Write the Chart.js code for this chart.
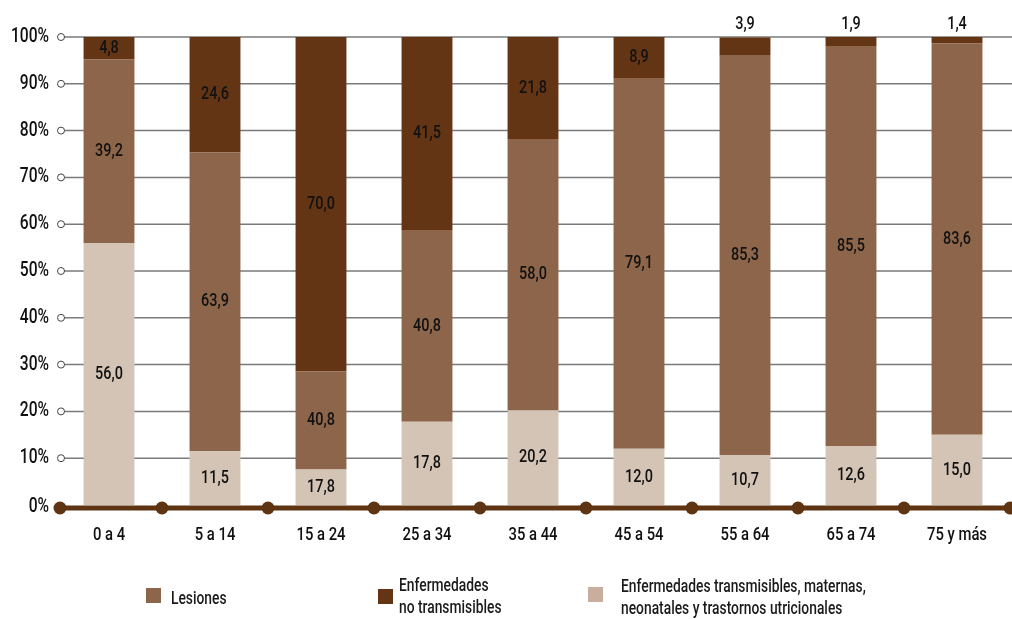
<!DOCTYPE html>
<html>
<head>
<meta charset="utf-8">
<script src="https://cdn.jsdelivr.net/npm/chart.js@4.4.1/dist/chart.umd.min.js"></script>
<style>
  body { margin: 0; background: #fff; }
  #wrap { position: relative; width: 1012px; height: 619px; }
  .legend-text {
    position: absolute;
    font-family: Roboto, "Liberation Sans", sans-serif;
    font-weight: 500;
    font-size: 17.5px;
    line-height: 22px;
    color: #1a1a1a;
    white-space: nowrap;
    transform: scaleX(0.79);
    transform-origin: left top;
  }
  .swatch { position: absolute; width: 15px; height: 15px; }
</style>
</head>
<body>
<div id="wrap">
  <canvas id="chart" width="1012" height="619"></canvas>
  <div class="swatch" style="left:146px;top:588px;background:#8d654a"></div>
  <div class="legend-text" style="left:171px;top:587px">Lesiones</div>
  <div class="swatch" style="left:378px;top:589px;background:#643514"></div>
  <div class="legend-text" style="left:399px;top:574px">Enfermedades<br>no transmisibles</div>
  <div class="swatch" style="left:588px;top:587px;background:#c8ae9c"></div>
  <div class="legend-text" style="left:621px;top:575px">Enfermedades transmisibles, maternas,<br>neonatales y trastornos utricionales</div>
</div>

<script>
// Categories (age groups)
const ageGroups = ['0 a 4', '5 a 14', '15 a 24', '25 a 34', '35 a 44', '45 a 54', '55 a 64', '65 a 74', '75 y más'];

// Bar heights (%) as drawn
const transmisibles = [56.0, 11.5, 7.6, 17.8, 20.2, 12.0, 10.7, 12.6, 15.0];
const lesiones = [39.2, 63.9, 21.0, 40.8, 58.0, 79.1, 85.3, 85.5, 83.6];
const noTransmisibles = [4.8, 24.6, 71.4, 41.5, 21.8, 8.9, 3.9, 1.9, 1.4];

// Printed labels
const transmisiblesLabels = ['56,0', '11,5', '17,8', '17,8', '20,2', '12,0', '10,7', '12,6', '15,0'];
const lesionesLabels = ['39,2', '63,9', '40,8', '40,8', '58,0', '79,1', '85,3', '85,5', '83,6'];
const noTransmisiblesLabels = ['4,8', '24,6', '70,0', '41,5', '21,8', '8,9', '3,9', '1,9', '1,4'];

// Y axis ticks
const yTicks = [0, 10, 20, 30, 40, 50, 60, 70, 80, 90, 100];

const fontFamily = 'Roboto, "Liberation Sans", sans-serif';
const axisColor = '#5e3413';
const textColor = '#111';
const squeeze = 0.78; // condensed look
const allLabels = [transmisiblesLabels, lesionesLabels, noTransmisiblesLabels];

// Draw text squeezed horizontally
function drawText(ctx, text, x, y, size, align) {
  ctx.save();
  ctx.translate(x, y);
  ctx.scale(squeeze, 1);
  ctx.font = '500 ' + size + 'px ' + fontFamily;
  ctx.fillStyle = textColor;
  ctx.textAlign = align;
  ctx.textBaseline = 'middle';
  ctx.fillText(text, 0, 0);
  ctx.restore();
}

// Grid lines, axis line with dots, tick and value labels
const decor = {
  id: 'decor',
  beforeDatasetsDraw(chart) {
    const { ctx, scales: { y } } = chart;
    ctx.save();
    yTicks.forEach(v => {
      const py = y.getPixelForValue(v);
      if (v === 0) {
        drawText(ctx, v + '%', 49, py + 2, 20, 'right');
        return;
      }
      drawText(ctx, v + '%', 49, py, 20, 'right');
      ctx.strokeStyle = '#7a7a7a';
      ctx.lineWidth = 1.5;
      ctx.beginPath();
      ctx.moveTo(64, py);
      ctx.lineTo(chart.width, py);
      ctx.stroke();
      ctx.fillStyle = '#fff';
      ctx.strokeStyle = '#444';
      ctx.lineWidth = 1;
      ctx.beginPath();
      ctx.arc(61, py, 3.5, 0, Math.PI * 2);
      ctx.fill();
      ctx.stroke();
    });
    ctx.restore();
  },
  afterDatasetsDraw(chart) {
    const { ctx, chartArea, scales: { x, y } } = chart;
    const y0 = y.getPixelForValue(0) + 3;
    ctx.save();
    ctx.strokeStyle = axisColor;
    ctx.lineWidth = 5;
    ctx.beginPath();
    ctx.moveTo(chartArea.left + 4, y0);
    ctx.lineTo(chart.width, y0);
    ctx.stroke();

    const step = x.getPixelForValue(1) - x.getPixelForValue(0);
    ctx.fillStyle = axisColor;
    for (let i = 0; i <= ageGroups.length; i++) {
      let px = x.getPixelForValue(i) - step / 2;
      if (i === 0) px = chartArea.left + 4;
      ctx.beginPath();
      ctx.arc(px, y0, 6.5, 0, Math.PI * 2);
      ctx.fill();
    }

    // Category labels
    ageGroups.forEach((g, i) => {
      drawText(ctx, g, x.getPixelForValue(i), y0 + 27, 19, 'center');
    });

    // Value labels
    chart.data.datasets.forEach((ds, di) => {
      const meta = chart.getDatasetMeta(di);
      meta.data.forEach((bar, i) => {
        let ly = (bar.y + bar.base) / 2;
        if (ds.data[i] < 4) ly = chartArea.top - 13;
        drawText(ctx, allLabels[di][i], bar.x, ly, 18.5, 'center');
      });
    });
    ctx.restore();
  }
};

new Chart(document.getElementById('chart'), {
  type: 'bar',
  data: {
    labels: ageGroups,
    datasets: [
      { label: 'Enfermedades transmisibles, maternas, neonatales y trastornos utricionales', data: transmisibles, backgroundColor: '#d4c4b5' },
      { label: 'Lesiones', data: lesiones, backgroundColor: '#8d654a' },
      { label: 'Enfermedades no transmisibles', data: noTransmisibles, backgroundColor: '#643514' }
    ]
  },
  options: {
    responsive: false,
    animation: false,
    layout: { padding: { top: 37, right: 2, left: 0, bottom: 0 } },
    datasets: { bar: { categoryPercentage: 1, barPercentage: 0.48 } },
    plugins: { legend: { display: false }, tooltip: { enabled: false } },
    scales: {
      x: {
        stacked: true,
        grid: { display: false, drawTicks: false },
        border: { display: false },
        ticks: { display: false },
        afterFit: (s) => { s.height = 114; }
      },
      y: {
        stacked: true,
        min: 0,
        max: 100,
        grid: { display: false, drawTicks: false },
        border: { display: false },
        ticks: { display: false, stepSize: 10 },
        afterFit: (s) => { s.width = 56; }
      }
    }
  },
  plugins: [decor]
});
</script>
</body>
</html>
